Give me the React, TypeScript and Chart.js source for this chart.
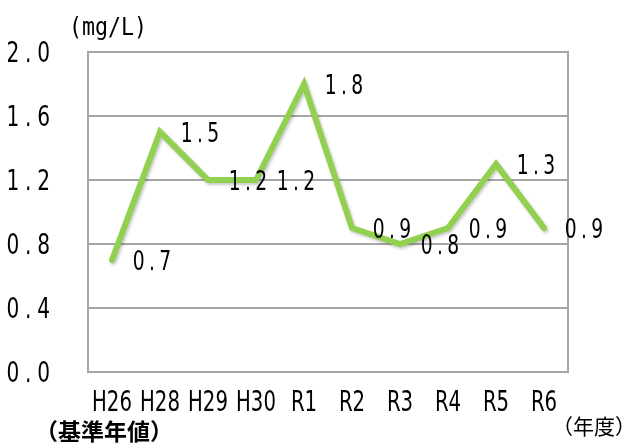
import React, { useEffect, useRef } from "react";
import { Chart, registerables } from "chart.js";

Chart.register(...registerables);

const categories = ["H26", "H28", "H29", "H30", "R1", "R2", "R3", "R4", "R5", "R6"];
const values = [0.7, 1.5, 1.2, 1.2, 1.8, 0.9, 0.8, 0.9, 1.3, 0.9];
const yMin = 0;
const yMax = 2.0;
const yStep = 0.4;
const unitLabel = "(mg/L)";
const baseLabel = "（基準年値）";
const yearLabel = "（年度）";

const FONT = "'DejaVu Sans', sans-serif";

function drawScaled(
  ctx: CanvasRenderingContext2D,
  text: string,
  x: number,
  y: number,
  font: string,
  sx: number,
  align: CanvasTextAlign,
  spacing = 0
) {
  ctx.save();
  ctx.font = font;
  (ctx as any).letterSpacing = `${spacing}px`;
  ctx.textAlign = "left";
  ctx.textBaseline = "middle";
  let w = ctx.measureText(text).width - spacing;
  w *= sx;
  let left = x;
  if (align === "center") left = x - w / 2;
  else if (align === "right") left = x - w;
  ctx.translate(left, y);
  ctx.scale(sx, 1);
  ctx.fillText(text, 0, 0);
  ctx.restore();
}

const decorPlugin = {
  id: "decor",
  beforeDatasetsDraw(chart: any) {
    const { ctx, chartArea } = chart;
    ctx.save();
    ctx.strokeStyle = "#A6A6A6";
    ctx.lineWidth = 2;
    ctx.strokeRect(chartArea.left, chartArea.top, chartArea.right - chartArea.left, chartArea.bottom - chartArea.top);
    ctx.restore();
  },
  beforeDatasetDraw(chart: any) {
    const ctx = chart.ctx;
    ctx.save();
    ctx.shadowColor = "rgba(0,0,0,0.22)";
    ctx.shadowBlur = 3;
    ctx.shadowOffsetX = 1.5;
    ctx.shadowOffsetY = 2;
  },
  afterDatasetDraw(chart: any) {
    chart.ctx.restore();
  },
  afterDraw(chart: any) {
    const { ctx } = chart;
    const yScale = chart.scales.y;
    const xScale = chart.scales.x;
    ctx.save();
    ctx.fillStyle = "#000";
    // y tick labels
    yScale.ticks.forEach((t: any) => {
      const py = yScale.getPixelForValue(t.value);
      drawScaled(ctx, Number(t.value).toFixed(1), 50, py + 3, `28px ${FONT}`, 0.72, "right", 8);
    });
    // x tick labels
    categories.forEach((c, i) => {
      const px = xScale.getPixelForValue(i);
      drawScaled(ctx, c, px, 403, `29px ${FONT}`, 0.68, "center", 0);
    });
    // data labels
    const meta = chart.getDatasetMeta(0);
    meta.data.forEach((pt: any, i: number) => {
      drawScaled(ctx, values[i].toFixed(1), pt.x + 40, pt.y + 3, `26px ${FONT}`, 0.72, "center", 6);
    });
    // unit labels
    drawScaled(ctx, unitLabel, 108, 29, "24px 'DejaVu Sans Mono', monospace", 0.9, "center", 0);
    ctx.fillStyle = "#000";
    ctx.font = "bold 23px 'Noto Sans CJK JP', sans-serif";
    ctx.textAlign = "center";
    ctx.textBaseline = "middle";
    ctx.fillText(baseLabel, 104, 431);
    ctx.font = "21px 'Noto Sans CJK JP', sans-serif";
    ctx.fillText(yearLabel, 594, 426);
    ctx.restore();
  },
};

export default function App() {
  const ref = useRef<HTMLCanvasElement | null>(null);
  useEffect(() => {
    if (!ref.current) return;
    const chart = new Chart(ref.current, {
      type: "line",
      data: {
        labels: categories,
        datasets: [
          {
            data: values,
            borderColor: "#92D050",
            borderWidth: 6,
            pointRadius: 0,
            tension: 0,
            borderCapStyle: "round",
            borderJoinStyle: "miter",
          },
        ],
      },
      options: {
        animation: false,
        responsive: false,
        maintainAspectRatio: false,
        layout: { padding: { top: 52, right: 61, left: 0, bottom: 0 } },
        plugins: { legend: { display: false }, tooltip: { enabled: false } },
        scales: {
          x: {
            offset: true,
            grid: { display: false, drawTicks: false },
            border: { display: false },
            ticks: { display: false, autoSkip: false },
            afterFit: (s: any) => {
              s.height = 72;
            },
          },
          y: {
            min: yMin,
            max: yMax,
            grid: { color: "#A6A6A6", lineWidth: 2, drawTicks: false },
            border: { display: false },
            ticks: { stepSize: yStep, display: false },
            afterFit: (s: any) => {
              s.width = 88;
            },
          },
        },
      },
      plugins: [decorPlugin],
    });
    return () => chart.destroy();
  }, []);
  return (
    <div style={{ position: "fixed", left: 0, top: 0, width: 629, height: 444, background: "#fff" }}>
      <canvas ref={ref} width={629} height={444} style={{ width: 629, height: 444 }} />
    </div>
  );
}
